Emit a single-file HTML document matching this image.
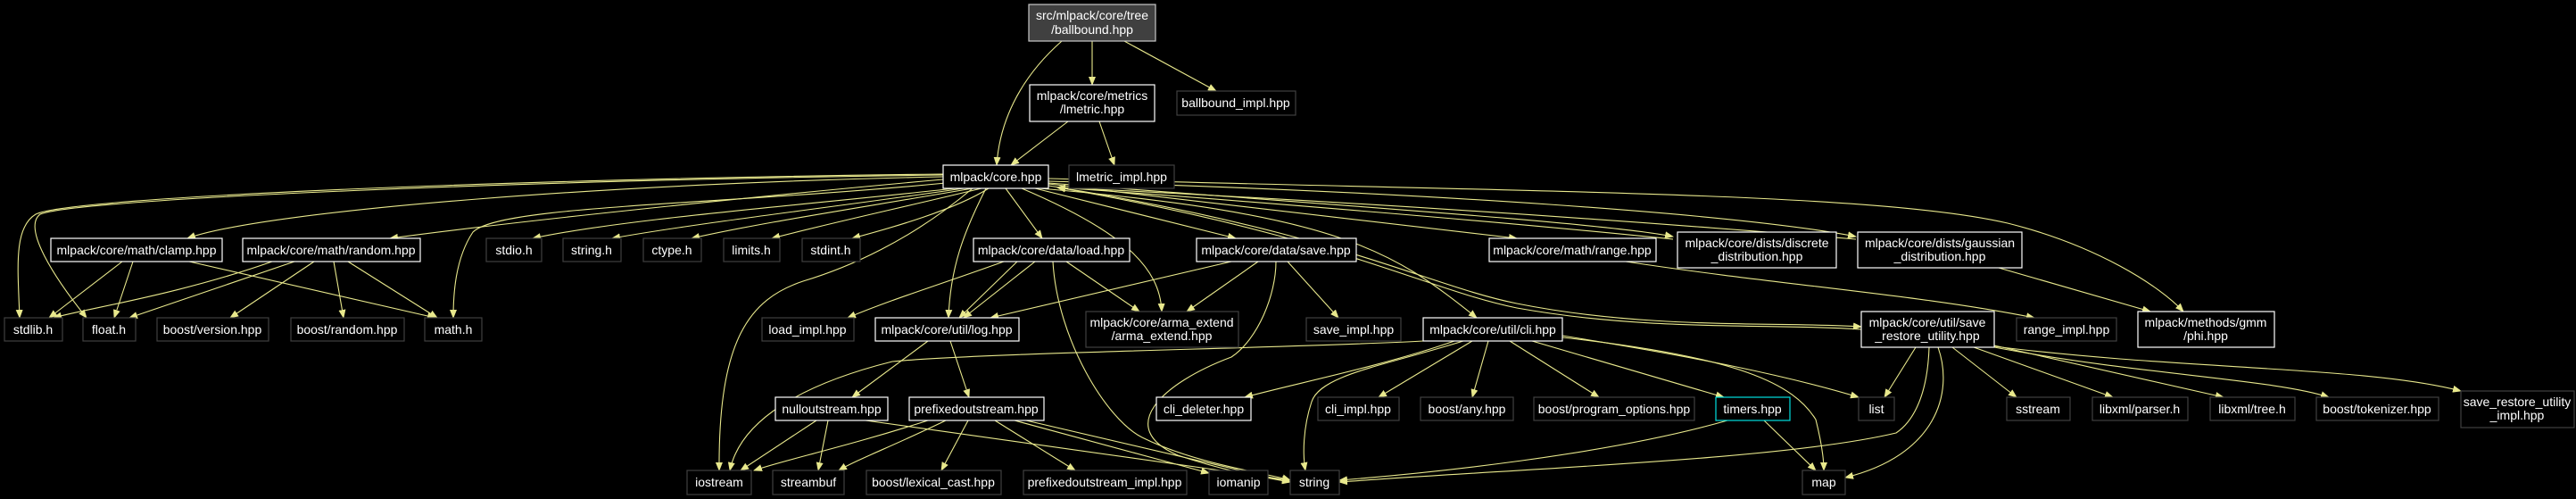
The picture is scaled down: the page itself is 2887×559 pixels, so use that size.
<!DOCTYPE html>
<html><head><meta charset="utf-8"><style>
html,body{margin:0;padding:0;background:#000;}
svg{display:block}
text{font-family:"Liberation Sans",sans-serif;font-size:14px;fill:#fff;}
</style></head><body>
<svg width="2887" height="559" viewBox="0 0 2887 559" xmlns="http://www.w3.org/2000/svg">
<defs><marker id="a" markerWidth="10" markerHeight="8" refX="9" refY="4" orient="auto" markerUnits="userSpaceOnUse"><path d="M0,0 L10,4 L0,8 z" fill="#e8e88c"/></marker></defs>
<g fill="none" stroke="#e8e88c" stroke-width="1.1" marker-end="url(#a)">
<path d="M1190,46 C1140,90 1120,140 1117,185"/>
<path d="M1224,46 L1224,95"/>
<path d="M1260,46 L1363,102"/>
<path d="M1197,136 L1133,185"/>
<path d="M1232,136 L1249,185"/>
<path d="M1057,198 C700,205 300,235 210,267"/>
<path d="M1057,201 C900,215 600,245 437,267"/>
<path d="M1070,211 C900,230 700,245 597,267"/>
<path d="M1080,211 C950,230 780,250 686,267"/>
<path d="M1090,211 C950,235 850,250 775,267"/>
<path d="M1100,211 C1000,235 930,250 865,267"/>
<path d="M1108,211 C1070,235 1000,255 955,267"/>
<path d="M1057,195 C600,200 80,220 40,240 C15,255 20,300 22,356"/>
<path d="M1057,196 C600,202 90,222 45,240 C25,255 60,310 97,356"/>
<path d="M1060,205 C800,230 560,230 530,260 C510,290 508,330 508,356"/>
<path d="M1090,211 C1020,270 950,300 900,315 C840,335 805,380 806,527"/>
<path d="M1105,211 C1080,260 1065,300 1063,356"/>
<path d="M1127,211 L1168,267"/>
<path d="M1145,211 C1260,260 1300,300 1302,349"/>
<path d="M1160,211 L1385,267"/>
<path d="M1165,211 C1500,240 1560,280 1655,356"/>
<path d="M1175,206 L1700,267"/>
<path d="M1175,205 C1500,230 1800,250 1875,265"/>
<path d="M1175,203 C1600,215 1950,240 2080,265"/>
<path d="M1175,208 C1500,260 1600,320 1700,340 C1850,370 2000,360 2086,366"/>
<path d="M1175,200 C1700,215 2100,215 2250,250 C2350,275 2420,320 2447,349"/>
<path d="M1875,268 C1700,250 1400,225 1185,210"/>
<path d="M2080,268 C1800,245 1500,225 1185,210"/>
<path d="M2086,369 C1990,362 1850,372 1700,345 C1600,325 1500,265 1185,210"/>
<path d="M137,293 L55,356"/><path d="M149,293 L128,356"/><path d="M212,293 L488,356"/>
<path d="M305,293 C200,330 100,345 60,356"/><path d="M330,293 L145,356"/><path d="M352,293 L258,356"/><path d="M374,293 L385,356"/><path d="M390,293 L490,356"/>
<path d="M1140,293 L1075,356"/><path d="M1160,293 L1080,356"/><path d="M1195,293 L1277,349"/><path d="M1125,293 C1050,320 1000,335 950,356"/>
<path d="M1180,293 C1185,380 1240,470 1280,490 C1340,520 1420,530 1446,538"/>
<path d="M1380,293 L1110,356"/><path d="M1410,293 L1330,349"/><path d="M1443,293 L1500,356"/>
<path d="M1430,293 C1430,330 1410,380 1380,400 C1300,430 1250,480 1320,510 C1380,530 1420,535 1446,540"/>
<path d="M1040,382 L955,445"/><path d="M1065,382 L1086,445"/>
<path d="M1595,382 C1450,390 1100,395 1000,405 C900,430 830,470 818,527"/>
<path d="M915,471 L830,527"/><path d="M928,471 L917,527"/><path d="M970,471 L1446,538"/>
<path d="M1040,471 C950,500 880,515 845,527"/><path d="M1060,471 C1000,500 960,515 940,527"/><path d="M1085,471 L1055,527"/><path d="M1115,471 L1205,527"/><path d="M1137,471 L1355,530"/><path d="M1150,471 L1446,540"/>
<path d="M1630,382 C1550,410 1450,430 1395,445"/><path d="M1650,382 L1545,445"/><path d="M1668,382 L1650,445"/><path d="M1692,382 L1792,445"/><path d="M1717,382 L1932,445"/>
<path d="M1640,382 C1550,410 1480,420 1470,450 C1460,480 1460,510 1463,527"/>
<path d="M1751,376 C1900,400 2000,420 2083,445"/>
<path d="M1751,378 C1950,400 2010,430 2035,470 C2040,490 2044,510 2044,527"/>
<path d="M1936,471 C1800,510 1600,530 1501,538"/><path d="M1977,471 L2035,527"/>
<path d="M2147,389 L2112,445"/><path d="M2162,389 C2160,450 2140,475 2125,485 C2000,515 1700,525 1501,540"/>
<path d="M2172,389 C2190,440 2170,510 2068,535"/>
<path d="M2188,389 L2260,445"/><path d="M2212,389 L2368,445"/><path d="M2235,387 L2492,445"/><path d="M2235,389 C2400,420 2550,425 2610,445"/><path d="M2235,388 C2450,415 2650,410 2758,438"/>
<path d="M1822,293 C2000,320 2150,330 2280,356"/>
<path d="M2240,300 L2410,349"/>
</g>
<g stroke-width="1.2">
<rect x="1153" y="5" width="142" height="41" fill="#404040" stroke="#c8c8c8"/>
<g fill="#000" stroke="#fff">
<rect x="1154" y="95" width="140" height="41"/><rect x="1057" y="185" width="118" height="26"/>
<rect x="57" y="267" width="192" height="26"/><rect x="272" y="267" width="199" height="26"/>
<rect x="1091" y="267" width="175" height="26"/><rect x="1341" y="267" width="179" height="26"/>
<rect x="1669" y="267" width="187" height="26"/><rect x="1880" y="260" width="178" height="40"/><rect x="2082" y="260" width="184" height="40"/>
<rect x="981" y="356" width="161" height="26"/><rect x="1595" y="356" width="156" height="26"/>
<rect x="2086" y="349" width="149" height="40"/><rect x="2396" y="349" width="153" height="40"/>
<rect x="869" y="445" width="126" height="26"/><rect x="1019" y="445" width="151" height="26"/><rect x="1296" y="445" width="106" height="26"/>
</g>
<rect x="1923" y="445" width="83" height="26" fill="#000" stroke="#00e0e0"/>
<g fill="#000" stroke="#404040">
<rect x="1319" y="102" width="133" height="27"/><rect x="1198" y="185" width="118" height="26"/>
<rect x="545" y="267" width="62" height="26"/><rect x="631" y="267" width="65" height="26"/><rect x="721" y="267" width="65" height="26"/><rect x="811" y="267" width="63" height="26"/><rect x="899" y="267" width="65" height="26"/>
<rect x="5" y="356" width="65" height="26"/><rect x="93" y="356" width="59" height="26"/><rect x="176" y="356" width="125" height="26"/><rect x="326" y="356" width="127" height="26"/><rect x="476" y="356" width="64" height="26"/>
<rect x="854" y="356" width="103" height="26"/><rect x="1217" y="349" width="171" height="40"/><rect x="1464" y="356" width="106" height="26"/><rect x="2260" y="356" width="112" height="26"/>
<rect x="1477" y="445" width="91" height="26"/><rect x="1592" y="445" width="104" height="26"/><rect x="1719" y="445" width="180" height="26"/>
<rect x="2083" y="445" width="40" height="26"/><rect x="2249" y="445" width="71" height="26"/><rect x="2345" y="445" width="107" height="26"/><rect x="2477" y="445" width="95" height="26"/><rect x="2596" y="445" width="137" height="26"/><rect x="2758" y="438" width="127" height="41"/>
<rect x="770" y="527" width="72" height="27"/><rect x="866" y="527" width="80" height="27"/><rect x="971" y="527" width="151" height="27"/><rect x="1147" y="527" width="183" height="27"/><rect x="1355" y="527" width="66" height="27"/><rect x="1446" y="527" width="55" height="27"/><rect x="2020" y="527" width="48" height="27"/>
</g></g>
<g text-anchor="middle">
<text x="1224" y="22">src/mlpack/core/tree</text><text x="1224" y="38">/ballbound.hpp</text>
<text x="1224" y="112">mlpack/core/metrics</text><text x="1224" y="127">/lmetric.hpp</text>
<text x="1385" y="120">ballbound_impl.hpp</text>
<text x="1116" y="203">mlpack/core.hpp</text><text x="1257" y="203">lmetric_impl.hpp</text>
<text x="153" y="285">mlpack/core/math/clamp.hpp</text><text x="371" y="285">mlpack/core/math/random.hpp</text>
<text x="576" y="285">stdio.h</text><text x="663" y="285">string.h</text><text x="753" y="285">ctype.h</text><text x="842" y="285">limits.h</text><text x="931" y="285">stdint.h</text>
<text x="1178" y="285">mlpack/core/data/load.hpp</text><text x="1430" y="285">mlpack/core/data/save.hpp</text><text x="1762" y="285">mlpack/core/math/range.hpp</text>
<text x="1969" y="277">mlpack/core/dists/discrete</text><text x="1969" y="292">_distribution.hpp</text>
<text x="2174" y="277">mlpack/core/dists/gaussian</text><text x="2174" y="292">_distribution.hpp</text>
<text x="37" y="374">stdlib.h</text><text x="122" y="374">float.h</text><text x="238" y="374">boost/version.hpp</text><text x="389" y="374">boost/random.hpp</text><text x="508" y="374">math.h</text>
<text x="905" y="374">load_impl.hpp</text><text x="1061" y="374">mlpack/core/util/log.hpp</text>
<text x="1302" y="366">mlpack/core/arma_extend</text><text x="1302" y="381">/arma_extend.hpp</text>
<text x="1517" y="374">save_impl.hpp</text><text x="1673" y="374">mlpack/core/util/cli.hpp</text>
<text x="2160" y="366">mlpack/core/util/save</text><text x="2160" y="381">_restore_utility.hpp</text>
<text x="2316" y="374">range_impl.hpp</text>
<text x="2472" y="366">mlpack/methods/gmm</text><text x="2472" y="381">/phi.hpp</text>
<text x="932" y="463">nulloutstream.hpp</text><text x="1094" y="463">prefixedoutstream.hpp</text><text x="1349" y="463">cli_deleter.hpp</text><text x="1522" y="463">cli_impl.hpp</text><text x="1644" y="463">boost/any.hpp</text><text x="1809" y="463">boost/program_options.hpp</text><text x="1964" y="463">timers.hpp</text>
<text x="2103" y="463">list</text><text x="2284" y="463">sstream</text><text x="2398" y="463">libxml/parser.h</text><text x="2524" y="463">libxml/tree.h</text><text x="2664" y="463">boost/tokenizer.hpp</text>
<text x="2821" y="455">save_restore_utility</text><text x="2821" y="470">_impl.hpp</text>
<text x="806" y="545">iostream</text><text x="906" y="545">streambuf</text><text x="1046" y="545">boost/lexical_cast.hpp</text><text x="1238" y="545">prefixedoutstream_impl.hpp</text><text x="1388" y="545">iomanip</text><text x="1473" y="545">string</text><text x="2044" y="545">map</text>
</g>
</svg>
</body></html>
